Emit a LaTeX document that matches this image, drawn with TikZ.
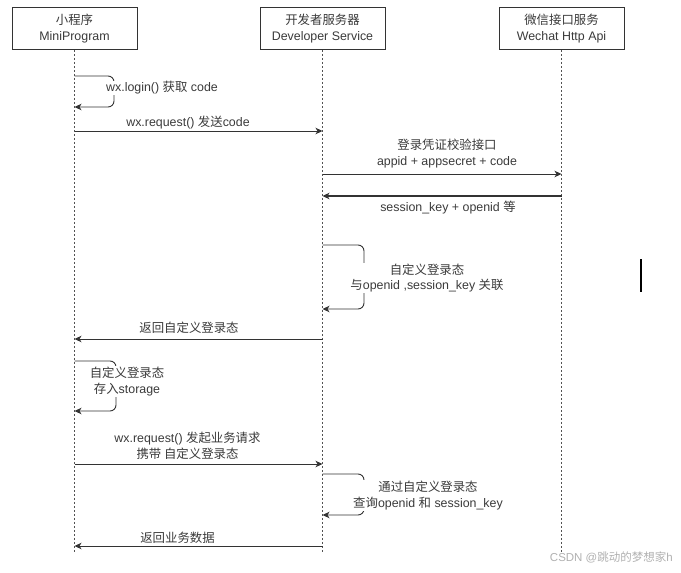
\documentclass[tikz,border=0pt]{standalone}
\usepackage{fontspec}
\setmainfont{Liberation Sans}
\newfontfamily\cjk{Noto Sans CJK SC}
\newcommand\zh[1]{{\cjk #1}}
\usetikzlibrary{arrows.meta}
\definecolor{ln}{HTML}{333333}
\definecolor{tx}{HTML}{3A3A3A}
\definecolor{wm}{HTML}{B0B0B0}
\begin{document}
\begin{tikzpicture}[x=1pt,y=-1pt,
  every node/.style={font=\fontsize{12.4}{15.5}\selectfont, text=tx, inner sep=1pt},
  actor/.style={draw=ln, line width=0.9pt, minimum width=125pt, minimum height=42pt, align=center, fill=white, inner sep=0pt},
  life/.style={draw=ln!85, dash pattern=on 2pt off 2pt, line width=0.7pt},
  msg/.style={draw=ln, line width=0.9pt, -{Stealth[length=7pt,width=6.5pt,inset=2pt]}},
  ret/.style={msg, line width=1.2pt},
  loopy/.style={msg, rounded corners=6pt},
  lbl/.style={align=center, fill=white},
]
\useasboundingbox (0,0) rectangle (681,573);
% actors
\node[actor] (A) at (74.5,28.5) {\zh{小程序}\\[0pt]MiniProgram};
\node[actor] (B) at (322.5,28.5) {\zh{开发者服务器}\\[0pt]Developer Service};
\node[actor] (C) at (561.5,28.5) {\zh{微信接口服务}\\[0pt]Wechat Http Api};
% lifeline ends
\coordinate (Ae) at (74.5,552);
\coordinate (Be) at (322.5,552);
\coordinate (Ce) at (561.5,552);
\draw[life] (A.south) -- (Ae);
\draw[life] (B.south) -- (Be);
\draw[life] (C.south) -- (Ce);
% 1 self loop
\draw[loopy] (A.south |- 0,76) -- (114,76) -- (114,107) -- (A.south |- 0,107);
\node[lbl] (l1) at (162,88) {wx.login() \zh{获取} code};
% 2
\draw[msg] (A.south |- 0,131) -- (B.south |- 0,131);
\node (l2) at (188,123) {wx.request() \zh{发送}code};
% 3
\draw[msg] (B.south |- 0,174) -- (C.south |- 0,174);
\node[align=center] (l3) at (447,153.5) {\zh{登录凭证校验接口}\\appid + appsecret + code};
% 4
\draw[ret] (C.south |- 0,196) -- (B.south |- 0,196);
\node (l4) at (448,208) {session\_key + openid \zh{等}};
% 5 self loop
\draw[loopy] (B.south |- 0,245) -- (364,245) -- (364,309) -- (B.south |- 0,309);
\node[lbl] (l5) at (427,278) {\zh{自定义登录态}\\\zh{与}openid ,session\_key \zh{关联}};
% 6
\draw[msg] (B.south |- 0,339) -- (A.south |- 0,339);
\node (l6) at (189,328) {\zh{返回自定义登录态}};
% 7 self loop
\draw[loopy] (A.south |- 0,361) -- (116,361) -- (116,411) -- (A.south |- 0,411);
\node[lbl] (l7) at (127,381.5) {\zh{自定义登录态}\\\zh{存入}storage};
% 8
\draw[msg] (A.south |- 0,464) -- (B.south |- 0,464);
\node[align=center] (l8) at (187.5,446) {wx.request() \zh{发起业务请求}\\\zh{携带 自定义登录态}};
% 9 self loop
\draw[loopy] (B.south |- 0,474) -- (364,474) -- (364,515) -- (B.south |- 0,515);
\node[lbl] (l9) at (428,495.5) {\zh{通过自定义登录态}\\\zh{查询}openid \zh{和} session\_key};
% 10
\draw[msg] (B.south |- 0,546) -- (A.south |- 0,546);
\node (l10) at (177.5,538) {\zh{返回业务数据}};
% cursor mark
\draw[line width=1.6pt, black] (641,259) -- (641,292);
% watermark
\node[text=wm, anchor=east, font=\fontsize{11.5}{13}\selectfont] (wmk) at (674,557) {CSDN @\zh{跳动的梦想家}h};
\end{tikzpicture}
\end{document}
